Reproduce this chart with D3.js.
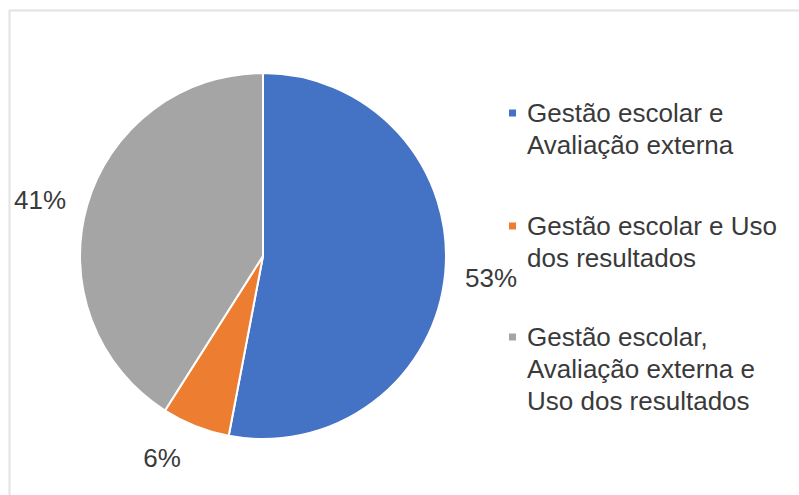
<!DOCTYPE html>
<html>
<head>
<meta charset="utf-8">
<script src="https://cdn.jsdelivr.net/npm/d3@7"></script>
<style>
  body { margin: 0; background: #fff; }
  svg text { font-family: "Liberation Sans", Arial, sans-serif; }
</style>
</head>
<body>
<svg id="chart" width="799" height="495"></svg>
<script>
// slice data, clockwise from 12 o'clock
let categories = [
  ["Gestão escolar e", "Avaliação externa"],
  ["Gestão escolar e Uso", "dos resultados"],
  ["Gestão escolar,", "Avaliação externa e", "Uso dos resultados"],
];
let values = [53, 6, 41];
let colors = ["#4472C4", "#ED7D31", "#A5A5A5"];

let svg = d3.select("#chart");

// frame
svg.append("path")
  .attr("d", "M9.5,495 V10.5 H799")
  .attr("fill", "none")
  .attr("stroke", "#e2e2e2")
  .attr("stroke-width", 2);

let cx = 263, cy = 256, radius = 183;

let pie = d3.pie().sort(null).value((d) => d);
let arcs = pie(values);
let arc = d3.arc().innerRadius(0).outerRadius(radius);

let body = svg.append("g").attr("transform", `translate(${cx},${cy})`);

body.selectAll("path")
  .data(arcs)
  .enter()
  .append("path")
  .attr("d", arc)
  .attr("fill", (d, i) => colors[i])
  .attr("stroke", "#fff")
  .attr("stroke-width", 2);

// percentage labels outside the pie
let labelPos = [[228, 22], [-101, 202], [-223, -56]];
body.selectAll(".lbl")
  .data(arcs)
  .enter()
  .append("text")
  .attr("class", "lbl")
  .attr("x", (d, i) => labelPos[i][0])
  .attr("y", (d, i) => labelPos[i][1])
  .attr("text-anchor", "middle")
  .attr("dominant-baseline", "central")
  .attr("font-size", 26)
  .attr("fill", "#3a3a3a")
  .text((d) => d.data + "%");

// legend
let legendY = [113, 226, 337];
let lineH = 32;
let legend = svg.append("g");
categories.forEach((lines, i) => {
  legend.append("rect")
    .attr("x", 509)
    .attr("y", legendY[i] - 3.5)
    .attr("width", 7)
    .attr("height", 7)
    .attr("fill", colors[i]);
  lines.forEach((t, j) => {
    legend.append("text")
      .attr("x", 527)
      .attr("y", legendY[i] + j * lineH)
      .attr("dominant-baseline", "central")
      .attr("font-size", 26)
      .attr("fill", "#3a3a3a")
      .text(t);
  });
});
</script>
</body>
</html>
